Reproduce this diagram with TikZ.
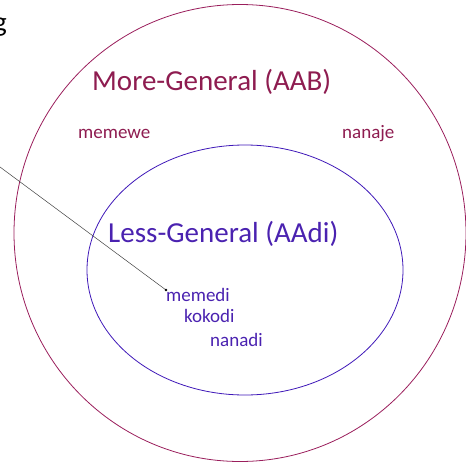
\documentclass[tikz,border=0pt]{standalone}
\usepackage{fontspec}
\setmainfont{Carlito}
\definecolor{outerc}{HTML}{9A1E5C}
\definecolor{outert}{HTML}{8E1C50}
\definecolor{innerc}{HTML}{3F18B8}
\definecolor{innert}{HTML}{4A22B0}
\begin{document}
\begin{tikzpicture}[x=1pt,y=-1pt,
  big/.style={font=\fontsize{29}{32}\selectfont, inner sep=0pt, anchor=base west},
  small/.style={font=\fontsize{19}{22}\selectfont, inner sep=0pt, anchor=base west},
  edgetxt/.style={font=\fontsize{28}{32}\selectfont, inner sep=0pt, anchor=base east, text=black}]
\useasboundingbox (0,0) rectangle (466,463);
\draw[outerc, line width=0.8pt] (240,233) ellipse [x radius=226, y radius=228.5];
\draw[innerc, line width=0.8pt] (245,270) ellipse [x radius=158, y radius=125];
\node[big, text=outert] (more) at (92,90) {More-General (AAB)};
\node[small, text=outert] (memewe) at (78,138) {memewe};
\node[small, text=outert] (nanaje) at (342,138) {nanaje};
\node[big, text=innert] (less) at (108,242) {Less-General (AAdi)};
\node[small, text=innert] (memedi) at (166,301) {memedi};
\node[small, text=innert] (kokodi) at (184,322) {kokodi};
\node[small, text=innert] (nanadi) at (210,346) {nanadi};
\node[edgetxt] (gtxt) at (7,31) {g};
\node[edgetxt] (ptxt) at (2,303) {)};
\coordinate (lstart) at (-10,159.6);
\coordinate (ldot) at (166,290);
\draw[black!75, line width=0.5pt] (lstart) -- (ldot);
\fill[black] (ldot) circle (1.3);
\end{tikzpicture}
\end{document}
